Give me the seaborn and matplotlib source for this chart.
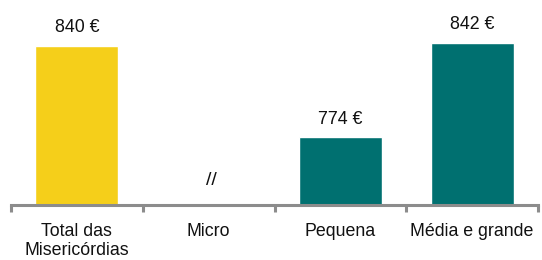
import matplotlib
matplotlib.use("Agg")
import matplotlib.pyplot as plt
import seaborn as sns
import numpy as np
import pandas as pd

categories = ["Total das\nMisericórdias", "Micro", "Pequena", "Média e grande"]
values = [840, np.nan, 774, 842]
labels = ["840 €", "//", "774 €", "842 €"]
colors = ["#F5CF1A", "#007070", "#007070", "#007070"]

sns.set_style("white")
plt.rcParams["font.family"] = ["Liberation Sans", "DejaVu Sans"]

df = pd.DataFrame({"cat": categories, "val": values})

fig = plt.figure(figsize=(5.42, 2.60), dpi=100)
ax = fig.add_axes([11/542, 55/260, 527/542, 205/260])

sns.barplot(data=df, x="cat", y="val", hue="cat", order=categories,
            hue_order=categories, palette=dict(zip(categories, colors)),
            width=0.63, legend=False, ax=ax, saturation=1)

ymin, ymax = 725, 873
ax.set_ylim(ymin, ymax)
ax.set_xlim(-0.5, len(categories) - 0.5)

fs = 12.8
for i, (v, lab) in enumerate(zip(values, labels)):
    if np.isnan(v):
        ax.text(i + 0.02, ymin + 18, lab, ha="center", va="center", fontsize=14, color="#111111")
    else:
        ax.text(i, v + 13, lab, ha="center", va="center", fontsize=fs, color="#111111")

for s in ["top", "right", "left"]:
    ax.spines[s].set_visible(False)
ax.spines["bottom"].set_color("#8C8C8C")
ax.spines["bottom"].set_linewidth(2.2)
ax.set_yticks([])
ax.set_xlabel("")
ax.set_ylabel("")
ax.set_xticks(range(len(categories)))
ax.set_xticklabels(categories, fontsize=fs, color="#111111", linespacing=1.15)
ax.tick_params(axis="x", which="major", length=0, pad=13, bottom=True)
ax.set_xticks(np.arange(-0.5, len(categories), 1.0), minor=True)
ax.tick_params(axis="x", which="minor", length=5, width=2.2, color="#8C8C8C",
               direction="out", bottom=True)

fig.savefig("out.png", dpi=100)
